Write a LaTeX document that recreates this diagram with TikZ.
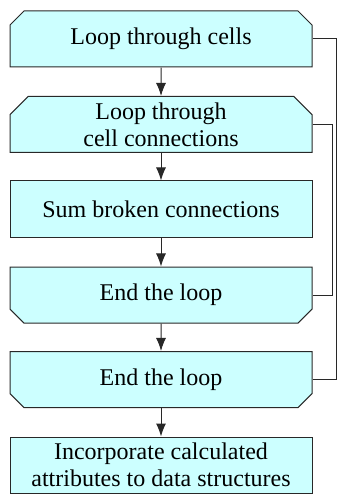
\documentclass[tikz,border=0pt]{standalone}
\usepackage{fontspec}
\setmainfont{Liberation Serif}
\newfontfamily\boxfont{Liberation Serif}
\usetikzlibrary{shapes.misc,arrows.meta}
\definecolor{boxfill}{RGB}{204,255,255}
\definecolor{linegray}{RGB}{40,40,40}
\tikzset{
  flowbox/.style={draw=linegray,line width=1pt,fill=boxfill,minimum width=302pt,
    minimum height=56pt,inner sep=0pt,align=center,
    font=\boxfont\fontsize{24}{27}\selectfont},
  loopstart/.style={flowbox,chamfered rectangle,chamfered rectangle xsep=15pt,
    chamfered rectangle corners={north west,north east}},
  loopend/.style={flowbox,chamfered rectangle,chamfered rectangle xsep=15pt,
    chamfered rectangle corners={south west,south east}},
  flowarrow/.style={draw=linegray,line width=1pt,-{Latex[length=13pt,width=10pt]}},
  backline/.style={draw=linegray,line width=1pt}
}
\begin{document}
\begin{tikzpicture}[x=1pt,y=-1pt]
\useasboundingbox (0,0) rectangle (337,494);
\node[loopstart] (cells) at (161,39) {Loop through cells};
\node[loopstart] (conns) at (161,124.5) {Loop through\\cell connections};
\node[flowbox] (sum) at (161,209) {Sum broken connections};
\node[loopend] (endin) at (161,295) {End the loop};
\node[loopend] (endout) at (161,379.5) {End the loop};
\node[flowbox] (attr) at (161,465) {Incorporate calculated\\attributes to data structures};
\draw[flowarrow] (cells) -- (conns);
\draw[flowarrow] (conns) -- (sum);
\draw[flowarrow] (sum) -- (endin);
\draw[flowarrow] (endin) -- (endout);
\draw[flowarrow] (endout) -- (attr);
% loop back lines
\coordinate (inner) at (332,0);
\coordinate (outer) at (336.5,0);
\draw[backline] (conns.east) -- (conns.east -| inner) -- (endin.east -| inner) -- (endin.east);
\draw[backline] (cells.east) -- (cells.east -| outer) -- (endout.east -| outer) -- (endout.east);
\end{tikzpicture}
\end{document}
